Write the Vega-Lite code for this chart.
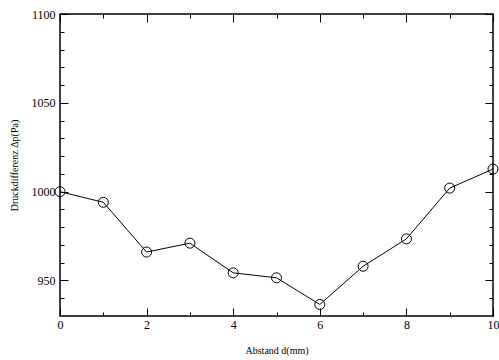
{
  "$schema": "https://vega.github.io/schema/vega-lite/v6.json",
  "width": 433,
  "height": 302,
  "autosize": {"type": "none"},
  "padding": {"left": 60, "top": 14, "right": 6, "bottom": 44},
  "background": "white",
  "config": {
    "view": {"stroke": "black", "strokeWidth": 1.5},
    "font": "Liberation Serif",
    "axis": {"grid": false, "domain": false, "labelFont": "Liberation Serif", "titleFont": "Liberation Serif", "labelColor": "black", "titleColor": "black", "labelFontSize": 12, "titleFontSize": 10, "titleFontWeight": "normal", "tickColor": "black", "tickWidth": 1}
  },
  "data": {"values": [
    {"d": 0, "p": 1000},
    {"d": 1, "p": 994},
    {"d": 2, "p": 966},
    {"d": 3, "p": 971},
    {"d": 4, "p": 954.3},
    {"d": 5, "p": 951.5},
    {"d": 6, "p": 936.5},
    {"d": 7, "p": 958},
    {"d": 8, "p": 973.4},
    {"d": 9, "p": 1002},
    {"d": 10, "p": 1012.7}
  ]},
  "resolve": {"axis": {"x": "independent", "y": "independent"}},
  "layer": [
    {
      "mark": {"type": "line", "color": "black", "strokeWidth": 1},
      "encoding": {
        "x": {"field": "d", "type": "quantitative", "scale": {"domain": [0, 10], "nice": false, "zero": false},
          "axis": {"orient": "bottom", "title": "Abstand d(mm)", "values": [0,1,2,3,4,5,6,7,8,9,10],
            "tickSize": {"condition": {"test": "datum.value % 2 === 0", "value": -8}, "value": -4},
            "labelExpr": "datum.value % 2 === 0 ? datum.label : ''", "labelPadding": 11, "titlePadding": 11, "labelFlush": false, "labelOverlap": false}},
        "y": {"field": "p", "type": "quantitative", "scale": {"domain": [930, 1100], "nice": false, "zero": false},
          "axis": {"orient": "left", "title": "Druckdifferenz   \u0394p(Pa)", "values": [940,950,960,970,980,990,1000,1010,1020,1030,1040,1050,1060,1070,1080,1090,1100],
            "tickSize": {"condition": {"test": "datum.value % 50 === 0", "value": -8}, "value": -4},
            "labelExpr": "datum.value % 50 === 0 ? datum.label : ''", "format": "d", "labelPadding": 13, "titlePadding": 12, "labelFlush": false, "labelOverlap": false}}
      }
    },
    {
      "mark": {"type": "point", "shape": "circle", "filled": false, "color": "black", "strokeWidth": 1, "size": 100, "opacity": 1},
      "encoding": {
        "x": {"field": "d", "type": "quantitative", "scale": {"domain": [0, 10], "nice": false, "zero": false},
          "axis": {"orient": "top", "title": null, "values": [0,1,2,3,4,5,6,7,8,9,10], "labels": false,
            "tickSize": {"condition": {"test": "datum.value % 2 === 0", "value": -8}, "value": -4}}},
        "y": {"field": "p", "type": "quantitative", "scale": {"domain": [930, 1100], "nice": false, "zero": false},
          "axis": {"orient": "right", "title": null, "values": [940,950,960,970,980,990,1000,1010,1020,1030,1040,1050,1060,1070,1080,1090,1100], "labels": false,
            "tickSize": {"condition": {"test": "datum.value % 50 === 0", "value": -8}, "value": -4}}}
      }
    }
  ]
}
